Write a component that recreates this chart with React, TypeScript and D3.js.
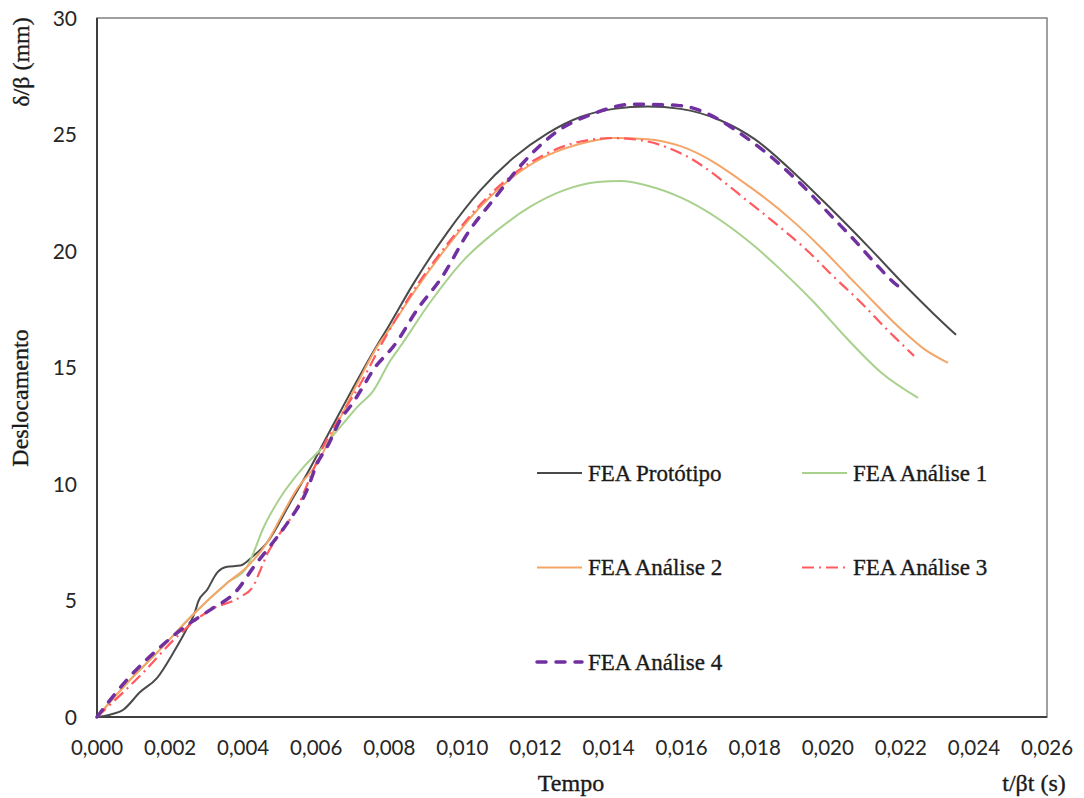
import React from "react";
import * as d3 from "d3";

// Displacement vs. time for the prototype and four FEA analyses
// Each point is [time (s), displacement (mm)]
const prototipo: [number, number][] = [
  [0, 0], [0.00036, 0.1], [0.00071, 0.3], [0.00118, 1.07], [0.00164, 1.67],
  [0.00214, 2.9], [0.00241, 3.65], [0.00268, 4.5], [0.00277, 4.95], [0.00301, 5.45],
  [0.00329, 6.2], [0.00356, 6.45], [0.00392, 6.5], [0.00427, 6.9], [0.00466, 7.5],
  [0.00529, 9.2], [0.00584, 10.7], [0.00638, 12.3], [0.00693, 13.9], [0.00748, 15.45],
  [0.00803, 16.9], [0.00866, 18.6], [0.00959, 20.8], [0.01049, 22.6], [0.0114, 24.0],
  [0.01233, 25.05], [0.01323, 25.75], [0.01414, 26.1], [0.01507, 26.2], [0.01597, 26.1],
  [0.01707, 25.6], [0.018, 24.8], [0.01918, 23.2], [0.02, 21.95], [0.0211, 20.2],
  [0.02219, 18.4], [0.0229, 17.3], [0.02351, 16.4],
];

const analise1: [number, number][] = [
  [0, 0], [0.00082, 1.45], [0.00173, 2.9], [0.00263, 4.4], [0.00356, 5.75],
  [0.00411, 6.45], [0.00427, 7.0], [0.00455, 8.1], [0.00501, 9.4], [0.00564, 10.7],
  [0.00619, 11.6], [0.00674, 12.6], [0.00712, 13.3], [0.00756, 14.0], [0.00803, 15.3],
  [0.0083, 15.9], [0.00912, 17.8], [0.01003, 19.6], [0.01096, 20.9], [0.01186, 21.9],
  [0.01277, 22.6], [0.0137, 22.96], [0.01433, 23.0], [0.01507, 22.8], [0.01597, 22.3],
  [0.018, 20.2], [0.01871, 19.2], [0.01962, 17.8], [0.02055, 16.2], [0.02145, 14.8],
  [0.02247, 13.7],
];

const analise2: [number, number][] = [
  [0, 0], [0.00082, 1.45], [0.00173, 2.9], [0.00263, 4.4], [0.00356, 5.75],
  [0.00411, 6.45], [0.00466, 7.5], [0.00501, 8.5], [0.00548, 9.8], [0.00603, 10.9],
  [0.00658, 12.6], [0.00712, 14.3], [0.00767, 15.9], [0.00803, 16.7], [0.00866, 18.2],
  [0.00959, 20.2], [0.01049, 21.9], [0.0114, 23.2], [0.01233, 24.1], [0.01323, 24.6],
  [0.01414, 24.85], [0.01507, 24.8], [0.01597, 24.5], [0.018, 22.6], [0.01907, 21.25],
  [0.01981, 20.15], [0.02055, 18.95], [0.02126, 17.8], [0.022, 16.65], [0.02263, 15.8],
  [0.02329, 15.2],
];

const analise3: [number, number][] = [
  [0, 0], [0.00126, 1.9], [0.00219, 3.45], [0.0031, 4.6], [0.00392, 5.15],
  [0.00427, 5.6], [0.00447, 6.3], [0.00466, 7.0], [0.00493, 7.7], [0.00548, 9.0],
  [0.00584, 10.3], [0.00619, 11.6], [0.00666, 12.9], [0.00721, 14.3], [0.00775, 15.9],
  [0.00866, 18.3], [0.00959, 20.3], [0.01049, 22.0], [0.0114, 23.3], [0.01233, 24.2],
  [0.01323, 24.7], [0.01414, 24.85], [0.01507, 24.7], [0.01597, 24.2], [0.018, 21.9],
  [0.01871, 21.0], [0.01945, 20.0], [0.02016, 18.9], [0.0209, 17.8], [0.02164, 16.6],
  [0.02236, 15.5],
];

const analise4: [number, number][] = [
  [0, 0], [0.00082, 1.6], [0.00173, 3.0], [0.00247, 3.95], [0.0031, 4.6],
  [0.00384, 5.45], [0.00427, 6.4], [0.00482, 7.5], [0.0052, 8.3], [0.00575, 9.75],
  [0.00603, 10.9], [0.0063, 11.6], [0.00666, 12.75], [0.00701, 13.5], [0.00729, 14.2],
  [0.00756, 14.9], [0.00803, 15.75], [0.00811, 15.9], [0.00877, 17.5], [0.00945, 18.9],
  [0.01016, 20.8], [0.01085, 22.2], [0.01167, 23.8], [0.01252, 25.05], [0.0136, 25.9],
  [0.01468, 26.3], [0.01589, 26.25], [0.018, 24.6], [0.01918, 23.0], [0.02016, 21.4],
  [0.02071, 20.5], [0.02137, 19.35], [0.02192, 18.5], [0.02208, 18.35],
];

const xTicks = [0, 0.002, 0.004, 0.006, 0.008, 0.01, 0.012, 0.014, 0.016, 0.018, 0.02, 0.022, 0.024, 0.026];
const yTicks = [0, 5, 10, 15, 20, 25, 30];

type Series = {
  name: string;
  data: [number, number][];
  color: string;
  width: number;
  dash?: string;
  cap?: "butt" | "round";
};

const series: Series[] = [
  { name: "FEA Protótipo", data: prototipo, color: "#4a4a4a", width: 2 },
  { name: "FEA Análise 1", data: analise1, color: "#a9d18e", width: 2 },
  { name: "FEA Análise 2", data: analise2, color: "#f4a567", width: 2 },
  { name: "FEA Análise 3", data: analise3, color: "#ff5a5f", width: 2.2, dash: "12 5 2 5" },
  { name: "FEA Análise 4", data: analise4, color: "#7030a0", width: 3.5, dash: "9 10", cap: "round" },
];

// Legend grid: column / row index for each series
const legendPos: [number, number][] = [[0, 0], [1, 0], [0, 1], [1, 1], [0, 2]];

const W = 1084;
const H = 798;
const plot = { left: 97, right: 1047, top: 18, bottom: 717 };

const serif = "'Liberation Serif', 'Times New Roman', serif";
const sans = "Lato, 'Open Sans', sans-serif";
const textInk = "#1a1a1a";

export default function App() {
  const x = d3.scaleLinear().domain([0, 0.026]).range([plot.left, plot.right]);
  const y = d3.scaleLinear().domain([0, 30]).range([plot.bottom, plot.top]);
  const line = d3
    .line<[number, number]>()
    .x((d) => x(d[0]))
    .y((d) => y(d[1]))
    .curve(d3.curveMonotoneX);
  const fmt = (v: number) => v.toFixed(3).replace(".", ",");

  const legendX0 = 537;
  const legendColW = 265;
  const legendY0 = 473;
  const legendRowH = 94.5;

  const serifText = {
    fontFamily: serif,
    fill: textInk,
    stroke: textInk,
    strokeWidth: 0.35,
  };

  return (
    <svg
      width={W}
      height={H}
      viewBox={`0 0 ${W} ${H}`}
      style={{ position: "absolute", left: 0, top: 0, background: "#fff" }}
    >
      <rect x={0} y={0} width={W} height={H} fill="#fff" />
      {/* plot frame */}
      <rect
        x={plot.left}
        y={plot.top}
        width={plot.right - plot.left}
        height={plot.bottom - plot.top}
        fill="none"
        stroke="#808080"
        strokeWidth={1.5}
      />
      <line x1={plot.left} x2={plot.left} y1={plot.top} y2={plot.bottom} stroke="#3f3f3f" strokeWidth={2} />
      <line x1={plot.left} x2={plot.right} y1={plot.bottom} y2={plot.bottom} stroke="#3f3f3f" strokeWidth={2} />

      {/* tick labels */}
      {xTicks.map((t) => (
        <text key={`x${t}`} x={x(t)} y={755} textAnchor="middle" fontFamily={sans} fontSize={20.5} fill="#262626">
          {fmt(t)}
        </text>
      ))}
      {yTicks.map((v) => (
        <text key={`y${v}`} x={77} y={y(v)} dy="0.36em" textAnchor="end" fontFamily={sans} fontSize={21} fill="#262626">
          {v}
        </text>
      ))}

      {/* axis titles */}
      <text x={571} y={791} textAnchor="middle" fontSize={24} {...serifText}>
        Tempo
      </text>
      <text x={1034} y={791} textAnchor="middle" fontSize={24} {...serifText}>
        t/βt (s)
      </text>
      <text transform="translate(29,62) rotate(-90)" textAnchor="middle" fontSize={24} {...serifText}>
        δ/β (mm)
      </text>
      <text transform="translate(28,398) rotate(-90)" textAnchor="middle" fontSize={24} {...serifText}>
        Deslocamento
      </text>

      {/* series */}
      {series.map((s) => (
        <path
          key={s.name}
          d={line(s.data) || ""}
          fill="none"
          stroke={s.color}
          strokeWidth={s.width}
          strokeDasharray={s.dash}
          strokeLinecap={s.cap || "butt"}
          strokeLinejoin="round"
        />
      ))}

      {/* legend */}
      {series.map((s, i) => {
        const [c, r] = legendPos[i];
        const lx = legendX0 + c * legendColW;
        const ly = legendY0 + r * legendRowH;
        return (
          <g key={`lg${s.name}`}>
            <line
              x1={lx}
              x2={lx + 45}
              y1={ly}
              y2={ly}
              stroke={s.color}
              strokeWidth={s.width}
              strokeDasharray={s.dash}
              strokeLinecap={s.cap || "butt"}
            />
            <text x={lx + 51} y={ly + 7.5} fontSize={23} {...serifText}>
              {s.name}
            </text>
          </g>
        );
      })}
    </svg>
  );
}
